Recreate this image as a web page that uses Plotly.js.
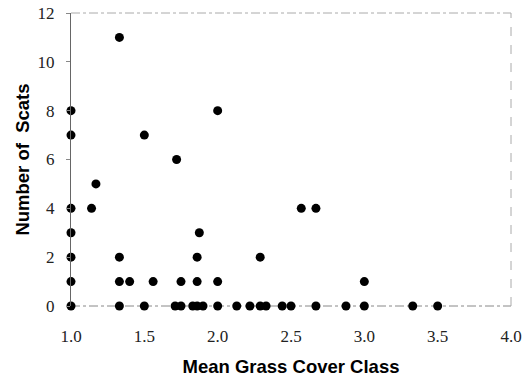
<!DOCTYPE html>
<html>
<head>
<meta charset="utf-8">
<script src="https://cdn.plot.ly/plotly-3.0.1.min.js"></script>
<style>html,body{margin:0;padding:0;background:#fff;}#chart{width:532px;height:379px;}</style>
</head>
<body>
<div id="chart"></div>
<script>
// Mean grass cover class (x) and number of scats (y)
const grassCover = [
  1.0, 1.33, 1.5, 1.71, 1.75, 1.83, 1.86, 1.9, 2.0, 2.13, 2.22, 2.29, 2.33, 2.44, 2.5, 2.67, 2.875, 3.0, 3.33, 3.5,
  1.0, 1.33, 1.4, 1.56, 1.75, 1.86, 2.0, 3.0,
  1.0, 1.33, 1.86, 2.29,
  1.0, 1.875,
  1.0, 1.14, 2.57, 2.67,
  1.17,
  1.72,
  1.0, 1.5,
  1.0, 2.0,
  1.33
];
const scats = [
  0, 0, 0, 0, 0, 0, 0, 0, 0, 0, 0, 0, 0, 0, 0, 0, 0, 0, 0, 0,
  1, 1, 1, 1, 1, 1, 1, 1,
  2, 2, 2, 2,
  3, 3,
  4, 4, 4, 4,
  5,
  6,
  7, 7,
  8, 8,
  11
];
const xTicks = [1.0, 1.5, 2.0, 2.5, 3.0, 3.5, 4.0];
const xTickText = ['1.0', '1.5', '2.0', '2.5', '3.0', '3.5', '4.0'];
const yTicks = [0, 2, 4, 6, 8, 10, 12];

const serif = 'Liberation Serif, Times New Roman, serif';
const sans = 'Liberation Sans, Arial, sans-serif';

const trace = {
  x: grassCover, y: scats, type: 'scatter', mode: 'markers',
  marker: {color: '#000', size: 9},
  cliponaxis: false, hoverinfo: 'x+y'
};

const layout = {
  width: 532, height: 379,
  margin: {l: 71, r: 21, t: 13, b: 73},
  paper_bgcolor: '#fff', plot_bgcolor: '#fff',
  showlegend: false,
  font: {family: serif, size: 17, color: '#222'},
  xaxis: {
    range: [1, 4], tickvals: xTicks, ticktext: xTickText,
    tickfont: {family: serif, size: 17, color: '#222'},
    showgrid: false, zeroline: false, showline: false, ticks: '',
    ticklen: 0, ticklabelstandoff: 18,
    title: {text: 'Mean Grass Cover Class', standoff: 15,
      font: {family: sans, size: 18.5, color: '#000', weight: 'bold'}}
  },
  yaxis: {
    range: [0, 12], tickvals: yTicks,
    tickfont: {family: serif, size: 17, color: '#222'},
    showgrid: false, zeroline: false, showline: true, linecolor: '#666', linewidth: 1,
    ticks: 'outside', ticklen: 4, tickcolor: '#888', ticklabelstandoff: 8,
    title: {text: 'Number of  Scats', standoff: 3,
      font: {family: sans, size: 18.5, color: '#000', weight: 'bold'}}
  },
  shapes: [
    {type: 'line', xref: 'paper', yref: 'paper', x0: 0, x1: 1, y0: 1, y1: 1, line: {color: '#aaa', width: 1, dash: 'dashdot'}},
    {type: 'line', xref: 'paper', yref: 'paper', x0: 1, x1: 1, y0: 0, y1: 1, line: {color: '#aaa', width: 1, dash: 'dash'}},
    {type: 'line', xref: 'paper', yref: 'paper', x0: 0, x1: 1, y0: 0, y1: 0, line: {color: '#888', width: 1, dash: 'dashdot'}, layer: 'below'}
  ]
};

Plotly.newPlot('chart', [trace], layout, {staticPlot: true, displayModeBar: false});
</script>
</body>
</html>
